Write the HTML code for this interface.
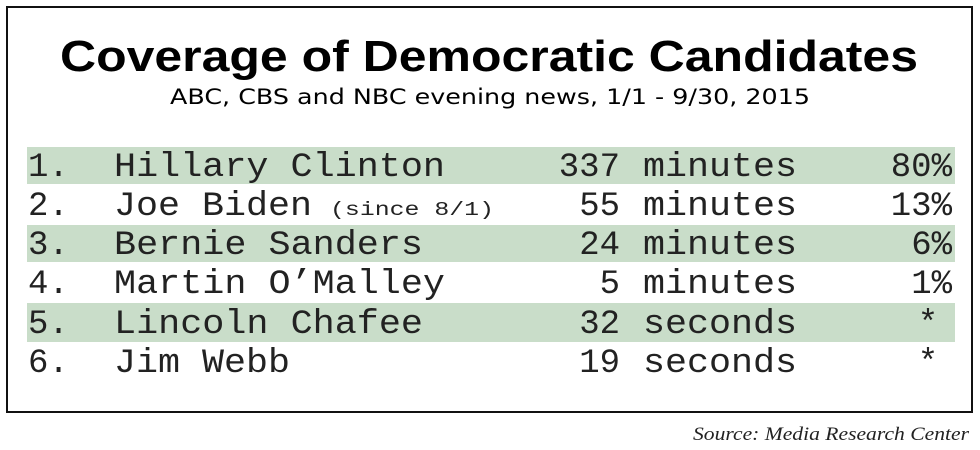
<!DOCTYPE html>
<html><head><style>body{margin:0;background:#fff}svg{display:block}</style></head><body>
<svg width="980" height="450" xmlns="http://www.w3.org/2000/svg">
<rect x="7" y="7" width="965" height="405" fill="#fff" stroke="#111" stroke-width="2"/>
<text x="489" y="71" text-anchor="middle" font-family="Liberation Sans, sans-serif" font-weight="bold" font-size="44" textLength="858" lengthAdjust="spacingAndGlyphs">Coverage of Democratic Candidates</text>
<text x="490" y="104" text-anchor="middle" font-family="DejaVu Sans, sans-serif" font-size="21" textLength="640" lengthAdjust="spacingAndGlyphs">ABC, CBS and NBC evening news, 1/1 - 9/30, 2015</text>
<rect x="27" y="147" width="928" height="37" fill="#c9ddc9"/>
<rect x="27" y="225" width="928" height="37" fill="#c9ddc9"/>
<rect x="27" y="303" width="928" height="39" fill="#c9ddc9"/>
<g font-family="Liberation Mono, monospace" font-size="34" fill="#222">
<text x="28" y="176">1.</text><text x="114" y="176" textLength="331" lengthAdjust="spacingAndGlyphs">Hillary Clinton</text><text x="620" y="176" text-anchor="end">337</text><text x="643" y="176" textLength="154" lengthAdjust="spacingAndGlyphs">minutes</text><text x="952" y="176" text-anchor="end">80%</text>
<text x="28" y="215">2.</text><text x="114" y="215" textLength="198" lengthAdjust="spacingAndGlyphs">Joe Biden</text><text x="330" y="215" font-size="19" textLength="164" lengthAdjust="spacingAndGlyphs">(since 8/1)</text><text x="620" y="215" text-anchor="end">55</text><text x="643" y="215" textLength="154" lengthAdjust="spacingAndGlyphs">minutes</text><text x="952" y="215" text-anchor="end">13%</text>
<text x="28" y="254">3.</text><text x="114" y="254" textLength="309" lengthAdjust="spacingAndGlyphs">Bernie Sanders</text><text x="620" y="254" text-anchor="end">24</text><text x="643" y="254" textLength="154" lengthAdjust="spacingAndGlyphs">minutes</text><text x="952" y="254" text-anchor="end">6%</text>
<text x="28" y="293">4.</text><text x="114" y="293" textLength="331" lengthAdjust="spacingAndGlyphs">Martin O’Malley</text><text x="620" y="293" text-anchor="end">5</text><text x="643" y="293" textLength="154" lengthAdjust="spacingAndGlyphs">minutes</text><text x="952" y="293" text-anchor="end">1%</text>
<text x="28" y="333">5.</text><text x="114" y="333" textLength="309" lengthAdjust="spacingAndGlyphs">Lincoln Chafee</text><text x="620" y="333" text-anchor="end">32</text><text x="643" y="333" textLength="154" lengthAdjust="spacingAndGlyphs">seconds</text><text x="928" y="333" text-anchor="middle">*</text>
<text x="28" y="372">6.</text><text x="114" y="372" textLength="176" lengthAdjust="spacingAndGlyphs">Jim Webb</text><text x="620" y="372" text-anchor="end">19</text><text x="643" y="372" textLength="154" lengthAdjust="spacingAndGlyphs">seconds</text><text x="928" y="372" text-anchor="middle">*</text>
</g>
<text x="969" y="440" text-anchor="end" font-family="Liberation Serif, serif" font-style="italic" font-size="19" fill="#222" textLength="276" lengthAdjust="spacingAndGlyphs">Source: Media Research Center</text>
</svg>
</body></html>
